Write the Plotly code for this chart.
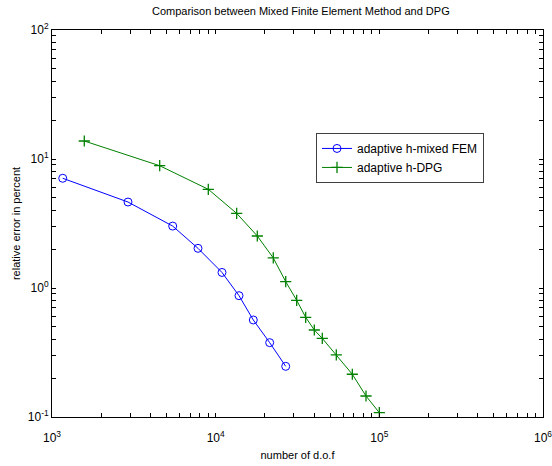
import plotly.graph_objects as go

# Data
fem_dof = [1163, 2913, 5463, 7799, 10930, 13884, 16982, 21380, 26790]
fem_err = [7.09, 4.64, 3.02, 2.03, 1.32, 0.872, 0.565, 0.377, 0.247]

dpg_dof = [1575, 4550, 9016, 13440, 17966, 22490, 26790, 31260, 35480,
           40060, 44820, 54580, 68380, 82900, 100000]
dpg_err = [13.79, 8.87, 5.82, 3.79, 2.53, 1.71, 1.12, 0.803, 0.593,
           0.4725, 0.407, 0.303, 0.2144, 0.1455, 0.108]

x_decades = [3, 4, 5, 6]
y_decades = [-1, 0, 1, 2]


def log_ticks(decades):
    vals, text = [], []
    for i, d in enumerate(decades):
        vals.append(10.0 ** d)
        text.append("10<sup>%d</sup>" % d)
        if i < len(decades) - 1:
            for m in range(2, 10):
                vals.append(m * 10.0 ** d)
                text.append("")
    return vals, text


x_tickvals, x_ticktext = log_ticks(x_decades)
y_tickvals, y_ticktext = log_ticks(y_decades)

FONT = "Liberation Sans, Arial, Helvetica, sans-serif"

fig = go.Figure()
fig.add_trace(go.Scatter(
    x=fem_dof, y=fem_err, mode="lines+markers", name="adaptive h-mixed FEM",
    line=dict(color="#0000ff", width=1),
    marker=dict(symbol="circle-open", size=8, color="#0000ff", line=dict(width=1)),
))
fig.add_trace(go.Scatter(
    x=dpg_dof, y=dpg_err, mode="lines+markers", name="adaptive h-DPG",
    line=dict(color="#008000", width=1),
    marker=dict(symbol="cross-thin-open", size=8, color="#008000",
                line=dict(width=1.3, color="#008000")),
))

axis_common = dict(
    type="log", showgrid=False, zeroline=False, automargin=False,
    showline=True, linecolor="black", linewidth=1, mirror="ticks",
    ticks="inside", ticklen=4, tickcolor="black", tickwidth=1,
    ticklabeloverflow="allow",
    tickfont=dict(family=FONT, size=12, color="black"),
)

fig.update_xaxes(
    **axis_common, range=[3, 6], tickvals=x_tickvals, ticktext=x_ticktext,
    ticklabelstandoff=10,
    title=dict(text="number of d.o.f", font=dict(family=FONT, size=11, color="black"), standoff=6),
)
fig.update_yaxes(
    **axis_common, range=[-1, 2], tickvals=y_tickvals, ticktext=y_ticktext,
    title=dict(text="relative error in percent", font=dict(family=FONT, size=11, color="black"), standoff=4),
)

fig.update_layout(
    width=552, height=466,
    margin=dict(l=52, r=9, t=30, b=49),
    plot_bgcolor="white", paper_bgcolor="white",
    title=dict(text="Comparison between Mixed Finite Element Method and DPG",
               font=dict(family=FONT, size=11, color="black"),
               x=0.545, xanchor="center", y=0.985, yanchor="top"),
    legend=dict(x=0.5377, y=0.734, xanchor="left", yanchor="top",
                bgcolor="white", bordercolor="#404040", borderwidth=1,
                font=dict(family=FONT, size=12, color="black"),
                tracegroupgap=0),
    showlegend=True,
)

fig.write_html("out.html")
